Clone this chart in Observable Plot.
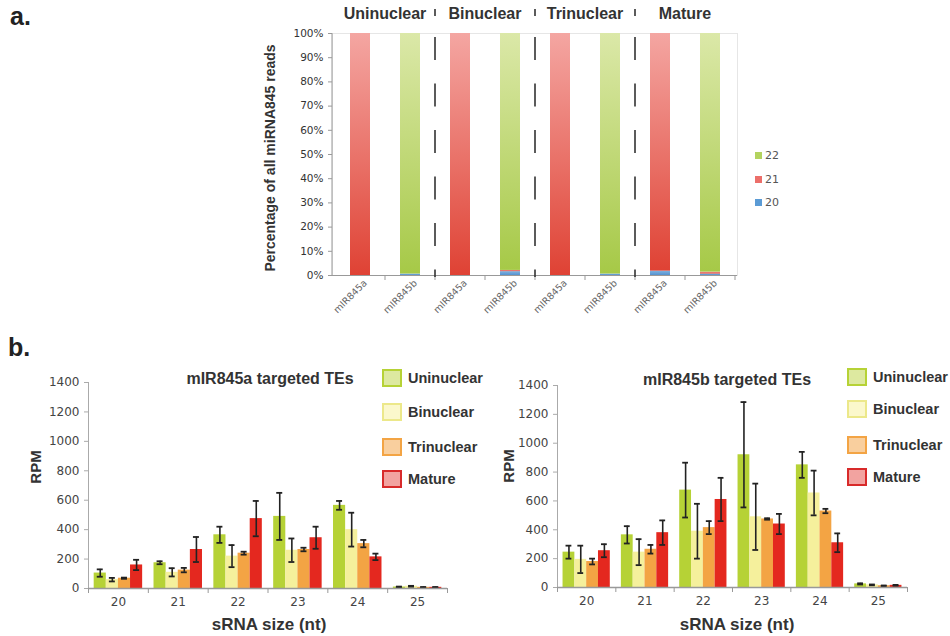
<!DOCTYPE html>
<html><head><meta charset="utf-8">
<script src="https://cdn.jsdelivr.net/npm/d3@7"></script>
<script src="https://cdn.jsdelivr.net/npm/@observablehq/plot@0.6"></script>
<style>
body{margin:0;background:#fff;}
#wrap{position:relative;width:950px;height:636px;overflow:hidden;font-family:"Liberation Sans",Arial,sans-serif;background:#fff;}
#wrap > *{position:absolute;}
.rot{transform:translate(-50%,-50%) rotate(-90deg);white-space:nowrap;font-weight:bold;color:#333;}
.ctr{transform:translate(-50%,-50%);white-space:nowrap;font-weight:bold;color:#333;}
.lg{display:flex;align-items:center;font-weight:bold;font-size:14.5px;color:#333;}
.lg span.sw{display:inline-block;width:16px;height:14px;border:2px solid;margin-right:6px;}
.la{display:flex;align-items:center;font-family:"DejaVu Sans",sans-serif;font-size:11px;color:#555;}
.la span.sw{display:inline-block;width:7px;height:7px;margin-right:3px;}
</style></head><body><div id="wrap"></div>
<script>
// ---------- Panel a data ----------
const stages = ["Uninuclear", "Binuclear", "Trinuclear", "Mature"];
const mirnas = ["mIR845a", "mIR845b"];
const readSizes = ["20", "21", "22"];
// order: Uni-a, Uni-b, Bi-a, Bi-b, Tri-a, Tri-b, Mat-a, Mat-b
const pct20 = [0, 0.6, 0, 1.6, 0, 0.6, 1.8, 0.6];
const pct21 = [100, 0, 100, 0.5, 100, 0, 98.2, 0.8];
const pct22 = [0, 99.4, 0, 97.9, 0, 99.4, 0, 98.6];

// ---------- Panel b data ----------
const srnaSizes = [20, 21, 22, 23, 24, 25];
const rpmTicks = [0, 200, 400, 600, 800, 1000, 1200, 1400];
// mIR845a targeted TEs
const aUni = [105, 175, 365, 490, 565, 10];
const aUniErr = [25, 10, 55, 160, 30, 3];
const aBi = [60, 110, 220, 260, 400, 15];
const aBiErr = [12, 28, 75, 80, 115, 3];
const aTri = [70, 125, 240, 265, 305, 8];
const aTriErr = [4, 15, 10, 12, 25, 2];
const aMat = [160, 265, 475, 345, 215, 8];
const aMatErr = [35, 85, 120, 75, 22, 2];
// mIR845b targeted TEs
const bUni = [245, 365, 675, 920, 850, 25];
const bUniErr = [45, 60, 190, 365, 90, 4];
const bBi = [195, 245, 390, 490, 655, 18];
const bBiErr = [95, 90, 190, 230, 155, 3];
const bTri = [180, 265, 415, 475, 530, 12];
const bTriErr = [20, 30, 45, 5, 15, 2];
const bMat = [255, 380, 610, 440, 310, 15];
const bMatErr = [45, 85, 150, 70, 65, 3];

const stageFill = ["#b6d236", "#f5f09c", "#f3a444", "#e4281f"];
const stageSwFill = ["#dde9a0", "#fbf8cc", "#f9cf9e", "#f2a3a0"];
const stageSwBorder = ["#b6d236", "#ece88a", "#f3a444", "#d82a2a"];

const wrap = document.getElementById("wrap");
function addHTML(html) { wrap.insertAdjacentHTML("beforeend", html); }

// ---------- Panel a ----------
const keysA = stages.flatMap(s => mirnas.map(m => s + "|" + m));
const rowsA = keysA.flatMap((k, i) => [
  {key: k, size: "20", pct: pct20[i]},
  {key: k, size: "21", pct: pct21[i]},
  {key: k, size: "22", pct: pct22[i]}
]);

const plotA = Plot.plot({
  width: 500, height: 330,
  marginLeft: 82, marginRight: 13, marginTop: 33, marginBottom: 55,
  style: {fontFamily: "'DejaVu Sans', sans-serif", fontSize: "10px", color: "#333", background: "transparent", overflow: "visible"},
  x: {domain: keysA, paddingInner: 0.6, paddingOuter: 0.3, axis: null},
  y: {domain: [0, 100], axis: null},
  color: {domain: readSizes, range: ["url(#gA20)", "url(#gA21)", "url(#gA22)"]},
  marks: [
    Plot.frame({stroke: "#e6e6e6"}),
    Plot.barY(rowsA, {x: "key", y: "pct", fill: "size"}),
    Plot.ruleY([0], {stroke: "#999"}),
    Plot.axisY({ticks: d3.range(0, 101, 10), tickFormat: d => d + "%", tickSize: 4, tickPadding: 5, stroke: "#999", fill: "#333", fontSize: 10.5, label: null}),
    Plot.axisX({tickRotate: -45, tickSize: 0, tickPadding: 6, dx: 5, tickFormat: k => k.split("|")[1], fill: "#666", fontSize: 9.5, label: null})
  ]
});
plotA.style.left = "250px"; plotA.style.top = "0px";
wrap.appendChild(plotA);

(function decorateA() {
  const svg = d3.select(plotA);
  const defs = svg.insert("defs", ":first-child");
  function vgrad(id, top, bottom) {
    const g = defs.append("linearGradient").attr("id", id).attr("x1", 0).attr("y1", 0).attr("x2", 0).attr("y2", 1);
    g.append("stop").attr("offset", "0%").attr("stop-color", top);
    g.append("stop").attr("offset", "100%").attr("stop-color", bottom);
  }
  vgrad("gA20", "#7fb2e0", "#5592d0");
  vgrad("gA21", "#f4a6a2", "#df4234");
  vgrad("gA22", "#dbe8a8", "#a6c947");

  const sx = plotA.scale("x"), sy = plotA.scale("y");
  const bw = sx.bandwidth, step = sx.step, half = (step - bw) / 2;
  const y0 = sy.apply(0), y100 = sy.apply(100);
  const g = svg.append("g");
  // left axis line
  g.append("line").attr("x1", 82).attr("x2", 82).attr("y1", y100).attr("y2", y0).attr("stroke", "#999");
  // category boundary ticks
  keysA.forEach((k) => {
    const xb = sx.apply(k) + bw + half;
    g.append("line").attr("x1", xb).attr("x2", xb).attr("y1", y0).attr("y2", y0 + 5).attr("stroke", "#999");
  });
  // group titles and dashed separators
  stages.forEach((s, j) => {
    const ca = sx.apply(s + "|mIR845a") + bw / 2, cb = sx.apply(s + "|mIR845b") + bw / 2;
    g.append("text").attr("x", (ca + cb) / 2).attr("y", 19).attr("text-anchor", "middle")
      .attr("font-family", "'Liberation Sans', Arial, sans-serif").attr("font-weight", "bold").attr("font-size", 16).attr("fill", "#333").text(s);
    if (j < stages.length - 1) {
      const xs = sx.apply(s + "|mIR845b") + bw + half;
      g.append("line").attr("x1", xs).attr("x2", xs).attr("y1", 9).attr("y2", y0 + 2)
        .attr("stroke", "#333").attr("stroke-width", 1.6)
        .attr("stroke-dasharray", "7,21,23,23.5,23,23.5,23,23.5,23,23.5,23,23.5,23,23.5");
    }
  });
})();

addHTML(`<div style="left:10px;top:2px;font-size:25px;font-weight:bold;color:#222;">a.</div>`);
addHTML(`<div class="rot" style="left:270px;top:158px;font-size:14px;">Percentage of all miRNA845 reads</div>`);
[["22", "#b3d35f", 155], ["21", "#ec6f6a", 179], ["20", "#5b9bd5", 202]].forEach(([t, c, y]) =>
  addHTML(`<div class="la" style="left:755px;top:${y - 7}px;height:14px;"><span class="sw" style="background:${c}"></span>${t}</div>`));

// ---------- Panel b ----------
function makeB(vals, errs, m) {
  const slot = 0.2025;
  const rows = stages.flatMap((s, j) => srnaSizes.map((sz, i) => ({
    stage: s, size: sz, value: vals[j][i], err: errs[j][i],
    x1: sz - 2 * slot + j * slot, x2: sz - 2 * slot + (j + 1) * slot, cx: sz - 2 * slot + (j + 0.5) * slot
  })));
  return Plot.plot({
    width: m.width, height: 276,
    marginLeft: m.left, marginRight: m.right, marginTop: m.top, marginBottom: m.bottom,
    style: {fontFamily: "'DejaVu Sans', sans-serif", fontSize: "12px", color: "#444", background: "transparent", overflow: "visible"},
    x: {domain: [srnaSizes[0] - 0.5, srnaSizes[srnaSizes.length - 1] + 0.5], axis: null},
    y: {domain: [0, 1400], axis: null},
    color: {domain: stages, range: stageFill},
    marks: [
      Plot.rectY(rows, {x1: "x1", x2: "x2", y: "value", fill: "stage"}),
      Plot.ruleX(rows, {x: "cx", y1: d => d.value - d.err, y2: d => d.value + d.err, stroke: "#222", strokeWidth: 1.6}),
      Plot.ruleY(rows, {y: d => d.value + d.err, x1: d => d.cx - 0.05, x2: d => d.cx + 0.05, stroke: "#222", strokeWidth: 1.8}),
      Plot.ruleY(rows, {y: d => d.value - d.err, x1: d => d.cx - 0.05, x2: d => d.cx + 0.05, stroke: "#222", strokeWidth: 1.8}),
      Plot.ruleX([srnaSizes[0] - 0.5], {stroke: "#aaa"}),
      Plot.ruleY([0], {stroke: "#999", strokeWidth: 1.5}),
      Plot.axisY({ticks: rpmTicks, tickFormat: d => String(d), tickSize: 4, tickPadding: 5, stroke: "#aaa", fill: "#444", fontSize: 12, label: null}),
      Plot.axisX({ticks: srnaSizes, tickFormat: d => String(d), tickSize: 0, tickPadding: 9, fill: "#444", fontSize: 12, label: null}),
      Plot.axisX({ticks: d3.range(srnaSizes[0] - 0.5, srnaSizes[srnaSizes.length - 1] + 1, 1), tickSize: 5, tickFormat: () => "", stroke: "#999", label: null})
    ]
  });
}

const plotB1 = makeB([aUni, aBi, aTri, aMat], [aUniErr, aBiErr, aTriErr, aMatErr], {width: 470, left: 88, right: 23, top: 22, bottom: 48});
plotB1.style.left = "0px"; plotB1.style.top = "360px";
wrap.appendChild(plotB1);
const plotB2 = makeB([bUni, bBi, bTri, bMat], [bUniErr, bBiErr, bTriErr, bMatErr], {width: 480, left: 87, right: 43, top: 25, bottom: 49});
plotB2.style.left = "470px"; plotB2.style.top = "360px";
wrap.appendChild(plotB2);

addHTML(`<div style="left:8px;top:333px;font-size:25px;font-weight:bold;color:#222;">b.</div>`);
addHTML(`<div class="ctr" style="left:270px;top:379px;font-size:16px;">mIR845a targeted TEs</div>`);
addHTML(`<div class="ctr" style="left:727px;top:380px;font-size:16px;">mIR845b targeted TEs</div>`);
addHTML(`<div class="rot" style="left:35px;top:467px;font-size:15px;">RPM</div>`);
addHTML(`<div class="rot" style="left:508px;top:466px;font-size:15px;">RPM</div>`);
addHTML(`<div class="ctr" style="left:269px;top:625px;font-size:17px;">sRNA size (nt)</div>`);
addHTML(`<div class="ctr" style="left:737px;top:625px;font-size:17px;">sRNA size (nt)</div>`);

const legY1 = [378, 412, 447, 479];
const legY2 = [377, 409, 445, 477];
stages.forEach((s, j) => {
  addHTML(`<div class="lg" style="left:382px;top:${legY1[j] - 10}px;height:20px;"><span class="sw" style="background:${stageSwFill[j]};border-color:${stageSwBorder[j]}"></span>${s}</div>`);
  addHTML(`<div class="lg" style="left:847px;top:${legY2[j] - 10}px;height:20px;"><span class="sw" style="background:${stageSwFill[j]};border-color:${stageSwBorder[j]}"></span>${s}</div>`);
});
</script></body></html>
